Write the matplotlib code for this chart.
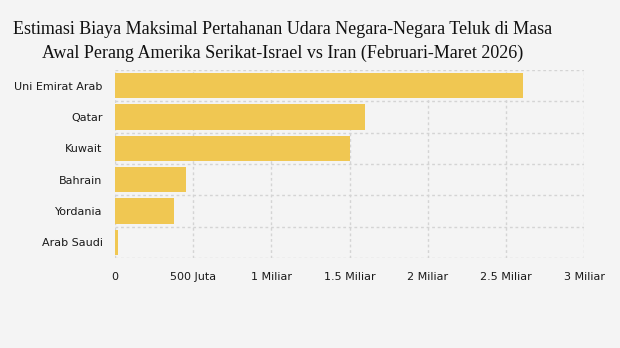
import matplotlib.pyplot as plt
import numpy as np

# data (in miliar USD)
countries = ['Uni Emirat Arab', 'Qatar', 'Kuwait', 'Bahrain', 'Yordania', 'Arab Saudi']
costs = [2.61, 1.60, 1.50, 0.455, 0.378, 0.02]
xticks = [0, 0.5, 1, 1.5, 2, 2.5, 3]
xtick_labels = ['0', '500 Juta', '1 Miliar', '1.5 Miliar', '2 Miliar', '2.5 Miliar', '3 Miliar']

bg = '#f4f4f4'
bar_color = '#f0c752'
grid_color = '#d4d4d4'

fig = plt.figure(figsize=(6.2, 3.48), dpi=100, facecolor=bg)
ax = fig.add_axes([115/620, 1 - 258/348, (584 - 115)/620, (258 - 70)/348])
ax.set_facecolor(bg)

y = np.arange(len(countries))
ax.barh(y, costs, height=0.8, color=bar_color, zorder=2)
ax.set_ylim(len(countries) - 0.5, -0.5)
ax.set_xlim(0, 3)

ax.set_yticks(y)
ax.set_yticklabels(countries, fontsize=8, color='#1a1a1a')
ax.set_xticks(xticks)
ax.set_xticklabels(xtick_labels, fontsize=8, color='#1a1a1a')
ax.tick_params(axis='both', length=0)
ax.tick_params(axis='y', pad=9)
ax.tick_params(axis='x', pad=10)

# grid: vertical at ticks, horizontal at category boundaries
for xv in xticks:
    ax.axvline(xv, color=grid_color, linestyle=(0, (2, 2)), linewidth=1, zorder=1)
for yb in np.arange(-0.5, len(countries), 1):
    ax.axhline(yb, color=grid_color, linestyle=(0, (2, 2)), linewidth=1, zorder=1)

for s in ax.spines.values():
    s.set_visible(False)

fig.text(283/620, 1 - 30/348, 'Estimasi Biaya Maksimal Pertahanan Udara Negara-Negara Teluk di Masa',
         ha='center', va='center', fontsize=13, family='Liberation Serif', color='#111111')
fig.text(283/620, 1 - 53/348, 'Awal Perang Amerika Serikat-Israel vs Iran (Februari-Maret 2026)',
         ha='center', va='center', fontsize=13, family='Liberation Serif', color='#111111')

fig.savefig('out.png', dpi=100, facecolor=bg)
